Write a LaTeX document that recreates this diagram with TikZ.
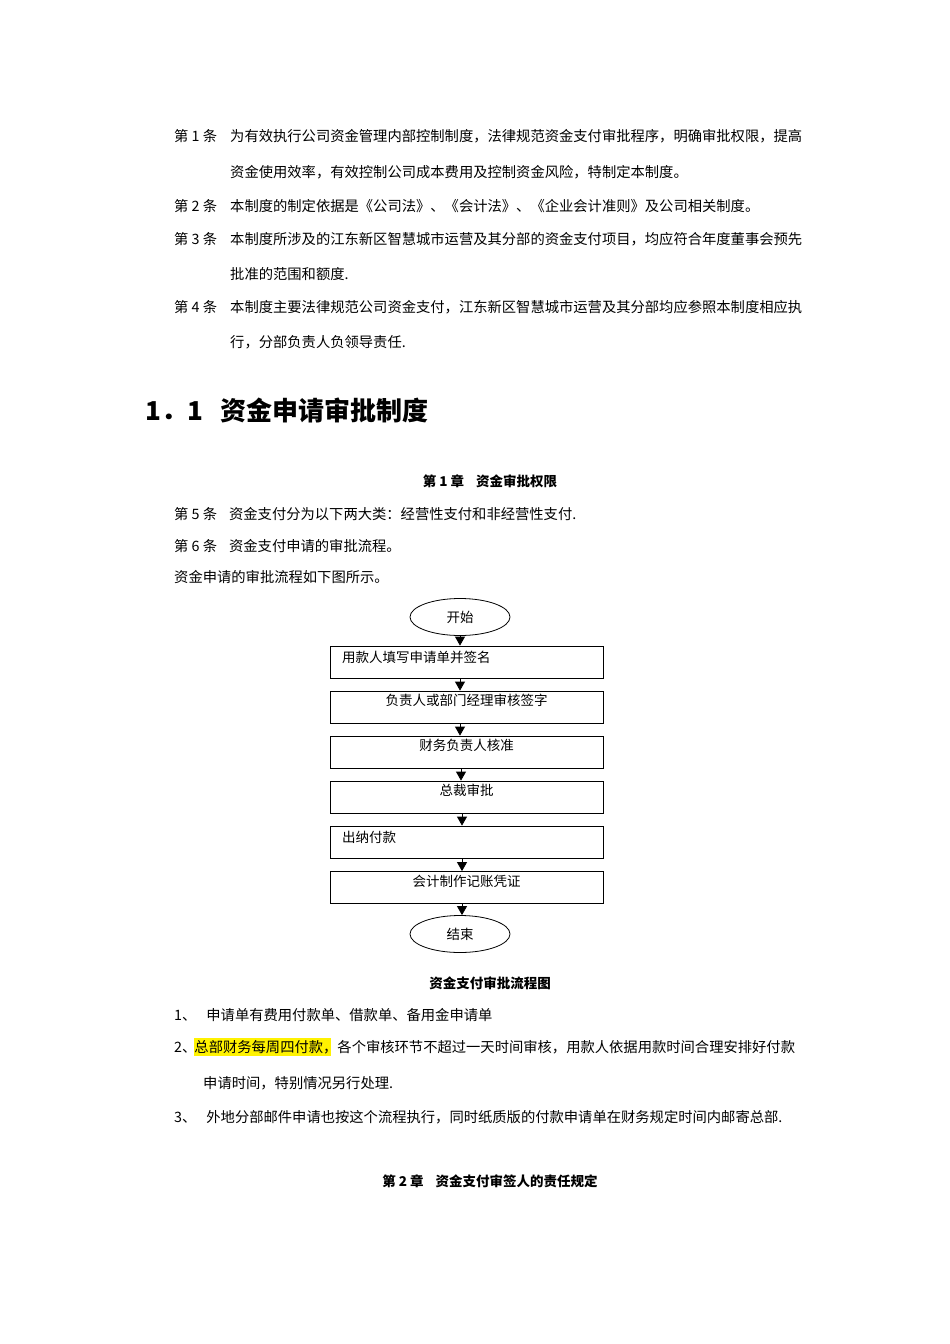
\documentclass[tikz,border=0pt]{standalone}
\usepackage{fontspec}
\setmainfont{Noto Sans CJK SC}
\usetikzlibrary{shapes.geometric,arrows.meta}
\begin{document}
\begin{tikzpicture}[x=1pt,y=-1pt,
 t/.style={anchor=west,inner sep=0,font=\fontsize{14.3}{14}\selectfont},
 b/.style={anchor=center,inner sep=0,font=\fontsize{13.5}{13}\selectfont\bfseries},
 box/.style={draw,thick,minimum width=273pt,minimum height=32pt,inner sep=0},
 ell/.style={draw,thick,ellipse,minimum width=100pt,minimum height=37pt,inner sep=0,font=\fontsize{13.5}{13}\selectfont},
 ar/.style={thick,-{Triangle[length=9pt,width=10pt]}},
 lb/.style={anchor=north,inner sep=0,font=\fontsize{13.5}{13}\selectfont}]
\useasboundingbox (0,0) rectangle (950,1344);
\node[t] (a1) at (174,136) {第 1 条};
\node[t] (a1t) at (230,136) {为有效执行公司资金管理内部控制制度，法律规范资金支付审批程序，明确审批权限，提高};
\node[t] (a1u) at (230,172) {资金使用效率，有效控制公司成本费用及控制资金风险，特制定本制度。};
\node[t] (a2) at (174,206) {第 2 条};
\node[t] (a2t) at (230,206) {本制度的制定依据是《公司法》、《会计法》、《企业会计准则》及公司相关制度。};
\node[t] (a3) at (174,239) {第 3 条};
\node[t] (a3t) at (230,239) {本制度所涉及的江东新区智慧城市运营及其分部的资金支付项目，均应符合年度董事会预先};
\node[t] (a3u) at (230,274) {批准的范围和额度.};
\node[t] (a4) at (174,307) {第 4 条};
\node[t] (a4t) at (230,307) {本制度主要法律规范公司资金支付，江东新区智慧城市运营及其分部均应参照本制度相应执};
\node[t] (a4u) at (230,342) {行，分部负责人负领导责任.};
\node[anchor=west,inner sep=0,font=\fontsize{26}{26}\selectfont\bfseries] (h) at (145,410) {1．1\hspace{18pt}资金申请审批制度};
\node[b] (c1) at (490,481) {第 1 章\hspace{12pt}资金审批权限};
\node[t] (a5) at (174,514) {第 5 条\hspace{12pt}资金支付分为以下两大类：经营性支付和非经营性支付.};
\node[t] (a6) at (174,546) {第 6 条\hspace{12pt}资金支付申请的审批流程。};
\node[t] (a7) at (174,577) {资金申请的审批流程如下图所示。};
\node[ell] (s) at (460,617) {开始};
\node[box] (n1) at (466.5,662) {}; \node[t,font=\fontsize{13.5}{13}\selectfont] at (342,657) {用款人填写申请单并签名};
\node[box] (n2) at (466.5,707) {}; \node[lb] at (466.5,694) {负责人或部门经理审核签字};
\node[box] (n3) at (466.5,752) {}; \node[lb] at (466.5,739) {财务负责人核准};
\node[box] (n4) at (466.5,797) {}; \node[lb] at (466.5,784) {总裁审批};
\node[box] (n5) at (466.5,842) {}; \node[t,font=\fontsize{13.5}{13}\selectfont] at (342,837) {出纳付款};
\node[box] (n6) at (466.5,887.5) {}; \node[lb] at (466.5,875) {会计制作记账凭证};
\node[ell] (e) at (460,934) {结束};
\draw[ar] (s.south) -- (s.south |- n1.north);
\draw[ar] (n1.south -| s.south) -- (s.south |- n2.north);
\draw[ar] (n2.south -| s.south) -- (s.south |- n3.north);
\draw[ar] ([xshift=1pt]n3.south -| s.south) -- ([xshift=1pt]s.south |- n4.north);
\draw[ar] ([xshift=2pt]n4.south -| s.south) -- ([xshift=2pt]s.south |- n5.north);
\draw[ar] ([xshift=2pt]n5.south -| s.south) -- ([xshift=2pt]s.south |- n6.north);
\draw[ar] ([xshift=2pt]n6.south -| s.south) -- ([xshift=2pt]e.north);
\node[b] (cap) at (490,983) {资金支付审批流程图};
\node[t] (l1) at (174,1015) {1、\hspace{10pt}申请单有费用付款单、借款单、备用金申请单};
\fill[yellow] (194,1038) rectangle (331,1056);
\node[t] (l2) at (174,1047) {2、\hspace{-2pt}总部财务每周四付款，各个审核环节不超过一天时间审核，用款人依据用款时间合理安排好付款};
\node[t] (l2u) at (203,1083) {申请时间，特别情况另行处理.};
\node[t] (l3) at (174,1117) {3、\hspace{10pt}外地分部邮件申请也按这个流程执行，同时纸质版的付款申请单在财务规定时间内邮寄总部.};
\node[b] (c2) at (490,1181) {第 2 章\hspace{12pt}资金支付审签人的责任规定};
\end{tikzpicture}
\end{document}
